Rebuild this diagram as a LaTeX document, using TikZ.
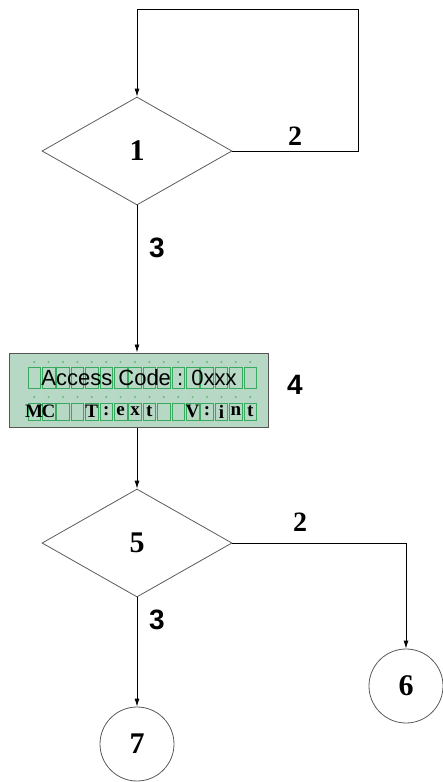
\documentclass[tikz,border=0pt]{standalone}
\usepackage{fontspec}
\setmainfont{Liberation Serif}
\newfontfamily\lcdsans{Liberation Sans}
\usetikzlibrary{arrows.meta,positioning,shapes.geometric}
\definecolor{lcdfill} {RGB}{182,216,196}
\definecolor{lcdedge} {RGB}{ 85, 85, 85}
\definecolor{cellgrn} {RGB}{ 55,170, 95}
\definecolor{dotgrn}  {RGB}{100,185,125}
\definecolor{shapegry}{RGB}{ 90, 90, 90}
\tikzset{
  dec/.style={diamond,draw=shapegry,line width=0.8pt,
    minimum width=190pt,minimum height=108pt,inner sep=0pt,
    font=\fontsize{30}{32}\selectfont\bfseries},
  term/.style={circle,draw=shapegry,line width=0.8pt,minimum size=74pt,
    inner sep=0pt,font=\fontsize{30}{32}\selectfont\bfseries},
  lcd/.style={draw=lcdedge,fill=lcdfill,line width=1pt,
    minimum width=259pt,minimum height=74pt,inner sep=0pt},
  cell/.style={draw=cellgrn,line width=0.7pt,minimum width=12.5pt,inner sep=0pt},
  cellchar/.style={font=\fontsize{19}{20}\selectfont\bfseries,inner sep=0pt},
  arr/.style={-{Latex[length=8pt,width=5pt]},line width=0.9pt},
  lbl/.style={font=\fontsize{28}{30}\selectfont\bfseries,inner sep=0pt},
  lbls/.style={font=\lcdsans\fontsize{28}{30}\selectfont\bfseries,inner sep=0pt},
}
\begin{document}
\begin{tikzpicture}[x=1pt,y=-1pt]
  \useasboundingbox (0,0) rectangle (443,782);

  \node[dec](d1) at (137,151){1};
  \node[lcd](lcd) at (138.5,390){};
  \node[dec](d5) at (137,543){5};
  \node[term](t6) at (406,686){6};
  \node[term](t7) at (137,744){7};

  % lcd cells and dots
  \foreach \i [evaluate=\i as \cx using 34.2+14.4*\i] in {0,...,15}{
    \node[cell,minimum height=21pt](ra\i) at (\cx,377.5){};
    \node[cell,minimum height=17pt](rb\i) at (\cx,411.5){};
    \fill[dotgrn](\cx,362) circle (1.1pt);
    \fill[dotgrn](\cx,397) circle (1.1pt);
  }
  \node[font=\lcdsans\fontsize{22}{23}\selectfont,inner sep=0pt](acc)
    at (139,377.5){Access Code : 0xxx};
  \foreach \ch [count=\k from 0] in {M,C,{},{},T,:,e,x,t,{},{},V,:,i,n,t}{
    \node[cellchar] at (rb\k){\ch};
  }

  \coordinate (loopc) at (358,9);
  \draw[arr](d1.east) -| (loopc) -| (d1.north);
  \draw[arr](d1.south) -- (d1.south|-lcd.north);
  \draw[arr](d5.north|-lcd.south) -- (d5.north);
  \draw[arr](d5.east) -| (t6.north);
  \draw[arr](d5.south) -- (t7.north);

  \node[lbl](l2a) at (295,136){2};
  \node[lbls](l3a) at (157,248){3};
  \node[lbls](l4)  at (295,385){4};
  \node[lbl](l2b) at (300,522){2};
  \node[lbls](l3b) at (157,620){3};
\end{tikzpicture}
\end{document}
